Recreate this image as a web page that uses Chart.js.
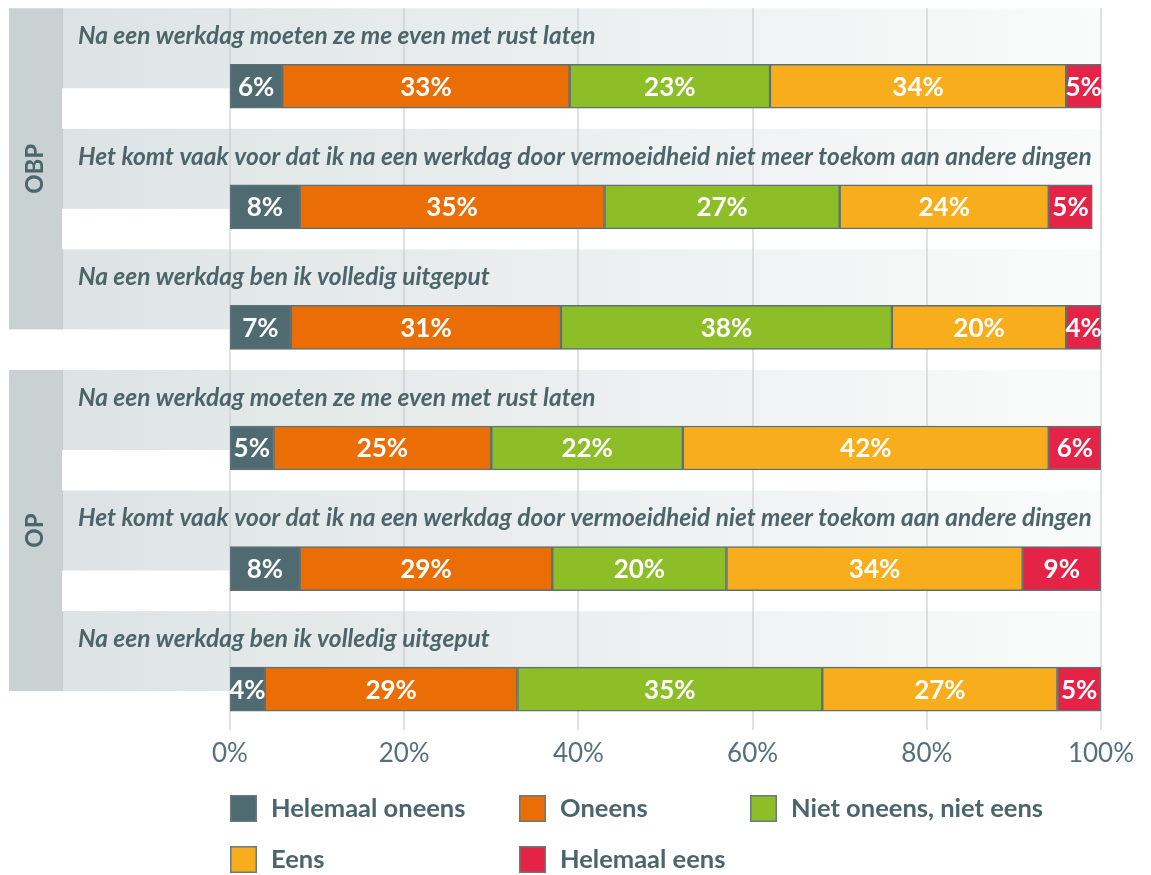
<!DOCTYPE html>
<html>
<head>
<meta charset="utf-8">
<script src="https://cdn.jsdelivr.net/npm/chart.js@4/dist/chart.umd.min.js"></script>
<style>
  html, body { margin: 0; padding: 0; background: #fff; }
  canvas { display: block; }
</style>
</head>
<body>
<canvas id="vermoeidheid" width="1151" height="875"></canvas>
<script>
// questions, top to bottom; first three belong to OBP, last three to OP
var questions = [
  'Na een werkdag moeten ze me even met rust laten',
  'Het komt vaak voor dat ik na een werkdag door vermoeidheid niet meer toekom aan andere dingen',
  'Na een werkdag ben ik volledig uitgeput',
  'Na een werkdag moeten ze me even met rust laten',
  'Het komt vaak voor dat ik na een werkdag door vermoeidheid niet meer toekom aan andere dingen',
  'Na een werkdag ben ik volledig uitgeput'
];
var groups = ['OBP', 'OP'];
var groupOf = [0, 0, 0, 1, 1, 1];

var answers = ['Helemaal oneens', 'Oneens', 'Niet oneens, niet eens', 'Eens', 'Helemaal eens'];
var helemaalOneens = [6, 8, 7, 5, 8, 4];
var oneens = [33, 35, 31, 25, 29, 29];
var neutraal = [23, 27, 38, 22, 20, 35];
var eens = [34, 24, 20, 42, 34, 27];
var helemaalEens = [5, 5, 4, 6, 9, 5];
var xTicks = [0, 20, 40, 60, 80, 100];

var kleuren = ['#4f6b71', '#eb6d05', '#8dbd27', '#f8ae1c', '#e52346'];
var tekstKleur = '#4b656b';
var font = 'Lato';

// rows sit on a numeric index axis (0..5), leaving room above the first bar for its question
var series = [helemaalOneens, oneens, neutraal, eens, helemaalEens];
var datasets = series.map(function (vals, i) {
  return {
    label: answers[i],
    data: vals.map(function (v, r) { return { x: v, y: r }; }),
    backgroundColor: kleuren[i],
    borderColor: '#5d7075',
    borderWidth: 1.5,
    borderSkipped: false,
    barThickness: 44
  };
});

// row bands, group column, grid and question text behind the bars
var achtergrond = {
  id: 'achtergrond',
  beforeDatasetsDraw: function (chart) {
    var c = chart.ctx, y = chart.scales.y, x = chart.scales.x;
    c.save();
    // group column on the far left
    groups.forEach(function (g, gi) {
      var rows = [];
      groupOf.forEach(function (v, i) { if (v === gi) rows.push(i); });
      var top = y.getPixelForValue(rows[0]) - 78;
      var bot = y.getPixelForValue(rows[rows.length - 1]) + 2;
      c.fillStyle = '#c9d1d3';
      c.fillRect(9, top, 53, bot - top);
      c.save();
      c.translate(35, (top + bot) / 2);
      c.rotate(-Math.PI / 2);
      c.fillStyle = tekstKleur;
      c.font = 'bold 24px ' + font;
      c.textAlign = 'center';
      c.textBaseline = 'middle';
      c.fillText(g, 0, 0);
      c.restore();
    });
    // light bands per question, fading to the right
    questions.forEach(function (q, i) {
      var cy = y.getPixelForValue(i);
      var grad = c.createLinearGradient(62, 0, 1101, 0);
      grad.addColorStop(0, '#dde3e4');
      grad.addColorStop(1, '#fafbfb');
      c.fillStyle = grad;
      c.fillRect(62, cy - 78, 1039, 80);
      c.fillStyle = '#c3cbcd';
      c.fillRect(62, cy - 78, 1, 80);
    });
    // vertical grid lines
    c.strokeStyle = 'rgba(200,206,208,0.6)';
    c.lineWidth = 2;
    xTicks.forEach(function (t) {
      var px = Math.round(x.getPixelForValue(t));
      c.beginPath();
      c.moveTo(px, chart.chartArea.top);
      c.lineTo(px, chart.chartArea.bottom);
      c.stroke();
    });
    // question text
    c.fillStyle = tekstKleur;
    c.font = 'italic bold 24.5px ' + font;
    c.textAlign = 'left';
    c.textBaseline = 'middle';
    questions.forEach(function (q, i) {
      c.fillText(q, 78, y.getPixelForValue(i) - 50);
    });
    c.restore();
  },
  afterDatasetsDraw: function (chart) {
    var c = chart.ctx;
    c.save();
    c.fillStyle = '#ffffff';
    c.font = 'bold 26px ' + font;
    c.textAlign = 'center';
    c.textBaseline = 'middle';
    chart.data.datasets.forEach(function (ds, di) {
      chart.getDatasetMeta(di).data.forEach(function (bar, i) {
        var left = Math.max(bar.base, chart.chartArea.left);
        var right = Math.min(bar.x, chart.chartArea.right);
        c.fillText(ds.data[i].x + '%', (left + right) / 2, bar.y + 1);
      });
    });
    c.restore();
  },
  afterDraw: function (chart) {
    // legend in aligned columns
    var c = chart.ctx;
    var cols = [230, 519, 750];
    var rows = [808, 859];
    c.save();
    c.font = 'bold 25.5px ' + font;
    c.textAlign = 'left';
    c.textBaseline = 'middle';
    chart.data.datasets.forEach(function (ds, i) {
      var lx = cols[i % 3], ly = rows[Math.floor(i / 3)];
      c.fillStyle = ds.backgroundColor;
      c.fillRect(lx, ly - 13, 27, 27);
      c.strokeStyle = '#667a7f';
      c.lineWidth = 1.5;
      c.strokeRect(lx + 0.75, ly - 12.25, 25.5, 25.5);
      c.fillStyle = tekstKleur;
      c.fillText(ds.label, lx + 41, ly + 1);
    });
    c.restore();
  }
};

new Chart(document.getElementById('vermoeidheid'), {
  type: 'bar',
  data: { labels: questions, datasets: datasets },
  plugins: [achtergrond],
  options: {
    indexAxis: 'y',
    responsive: false,
    animation: false,
    layout: { padding: { left: 230, right: 50, top: 8, bottom: 100 } },
    plugins: { legend: { display: false }, tooltip: { enabled: false } },
    scales: {
      x: {
        stacked: true,
        min: 0,
        max: 100,
        afterBuildTicks: function (s) { s.ticks = xTicks.map(function (v) { return { value: v }; }); },
        afterFit: function (s) { s.height = 45; },
        grid: { display: false },
        border: { display: false },
        ticks: {
          padding: 0,
          color: '#55707a',
          font: { family: font, size: 26 },
          callback: function (v) { return v + '%'; }
        }
      },
      y: {
        type: 'linear',
        stacked: true,
        reverse: true,
        offset: false,
        min: -0.649,
        max: 5.339,
        display: false
      }
    }
  }
});
</script>
</body>
</html>
